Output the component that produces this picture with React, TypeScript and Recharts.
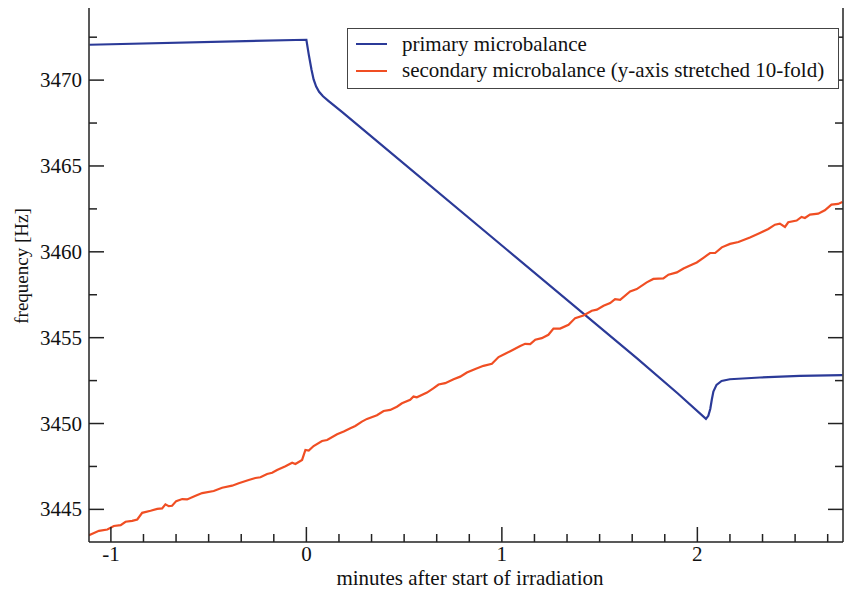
import React from 'react';
import { LineChart, Line, XAxis, YAxis, Legend } from 'recharts';

// tick positions (minutes, Hz)
const xMajorTicks = [-1, 0, 1, 2];
const xTicks = [
  -1, -5 / 6, -2 / 3, -1 / 2, -1 / 3, -1 / 6, 0, 1 / 6, 1 / 3, 1 / 2, 2 / 3, 5 / 6,
  1, 7 / 6, 4 / 3, 3 / 2, 5 / 3, 11 / 6, 2, 13 / 6, 7 / 3, 5 / 2, 8 / 3,
];
const yMajorTicks = [3445, 3450, 3455, 3460, 3465, 3470];
const yTicks = [3445, 3447.5, 3450, 3452.5, 3455, 3457.5, 3460, 3462.5, 3465, 3467.5, 3470, 3472.5];

// primary microbalance
const primaryX = [
  -1.109, 0.0, 0.012, 0.026, 0.037, 0.05, 0.065, 0.085, 0.114, 0.182,
  0.361, 1.026, 1.69, 1.9, 2.044, 2.056, 2.066, 2.074, 2.082, 2.098,
  2.124, 2.166, 2.32, 2.524, 2.742,
];
const primaryY = [
  3472.06, 3472.35, 3471.5, 3470.62, 3470.04, 3469.62, 3469.32, 3469.06, 3468.78, 3468.15,
  3466.45, 3460.12, 3453.81, 3451.75, 3450.27, 3450.45, 3450.85, 3451.4, 3451.86, 3452.25,
  3452.48, 3452.58, 3452.68, 3452.78, 3452.82,
];

// secondary microbalance (y-axis stretched 10-fold)
const secondaryX = [
  -1.112, -1.061, -1.018, -0.985, -0.95, -0.925, -0.891, -0.865, -0.84, -0.797,
  -0.763, -0.738, -0.721, -0.704, -0.687, -0.666, -0.635, -0.61, -0.567, -0.533,
  -0.474, -0.431, -0.38, -0.346, -0.295, -0.261, -0.235, -0.201, -0.175, -0.15,
  -0.107, -0.073, -0.056, -0.022, -0.005, 0.012, 0.037, 0.08, 0.106, 0.157,
  0.191, 0.225, 0.25, 0.284, 0.31, 0.361, 0.395, 0.429, 0.463, 0.489,
  0.531, 0.548, 0.565, 0.617, 0.651, 0.676, 0.71, 0.753, 0.787, 0.821,
  0.864, 0.906, 0.949, 0.983, 1.017, 1.043, 1.094, 1.119, 1.145, 1.171,
  1.204, 1.238, 1.264, 1.298, 1.341, 1.375, 1.417, 1.46, 1.486, 1.52,
  1.554, 1.579, 1.605, 1.656, 1.69, 1.741, 1.775, 1.826, 1.852, 1.895,
  1.929, 1.971, 1.997, 2.031, 2.065, 2.091, 2.125, 2.167, 2.21, 2.269,
  2.32, 2.363, 2.397, 2.422, 2.448, 2.465, 2.508, 2.533, 2.55, 2.576,
  2.618, 2.652, 2.686, 2.72, 2.742,
];
const secondaryY = [
  3443.5, 3443.75, 3443.83, 3444.03, 3444.08, 3444.28, 3444.33, 3444.41, 3444.8, 3444.92,
  3445.03, 3445.06, 3445.29, 3445.19, 3445.21, 3445.48, 3445.6, 3445.58, 3445.79, 3445.95,
  3446.07, 3446.26, 3446.38, 3446.52, 3446.71, 3446.83, 3446.87, 3447.06, 3447.13, 3447.29,
  3447.51, 3447.72, 3447.64, 3447.88, 3448.46, 3448.42, 3448.69, 3448.98, 3449.04, 3449.37,
  3449.53, 3449.72, 3449.86, 3450.11, 3450.27, 3450.48, 3450.73, 3450.79, 3450.98, 3451.18,
  3451.38, 3451.57, 3451.53, 3451.8, 3452.06, 3452.27, 3452.35, 3452.58, 3452.73, 3452.97,
  3453.18, 3453.36, 3453.48, 3453.87, 3454.06, 3454.21, 3454.52, 3454.64, 3454.62, 3454.88,
  3454.97, 3455.17, 3455.53, 3455.53, 3455.75, 3456.14, 3456.29, 3456.57, 3456.63, 3456.86,
  3457.02, 3457.25, 3457.21, 3457.69, 3457.83, 3458.22, 3458.42, 3458.45, 3458.67, 3458.8,
  3459.03, 3459.25, 3459.38, 3459.65, 3459.93, 3459.93, 3460.26, 3460.46, 3460.57, 3460.84,
  3461.1, 3461.33, 3461.58, 3461.64, 3461.45, 3461.72, 3461.82, 3462.03, 3461.97, 3462.17,
  3462.22, 3462.42, 3462.75, 3462.79, 3462.9,
];

const primaryData = primaryX.map((x, i) => ({ x, y: primaryY[i] }));
const secondaryData = secondaryX.map((x, i) => ({ x, y: secondaryY[i] }));

const FONT = '"Liberation Serif", "Times New Roman", serif';
const AXIS = '#222';
const BLUE = '#2b3a98';
const RED = '#f04e23';
const X_DOMAIN = [-1.112, 2.745];
const Y_DOMAIN = [3443.1, 3474.2];

const isMajorX = (v: number) => xMajorTicks.includes(v);
const isMajorY = (v: number) => yMajorTicks.includes(v);

// ticks point inward, labels only on major ticks
const BottomTick = (props: any) => {
  const { x, y, payload } = props;
  const major = isMajorX(payload.value);
  return (
    <g>
      <line x1={x} x2={x} y1={y} y2={y - (major ? 15 : 8)} stroke={AXIS} strokeWidth={1.5} />
      {major && (
        <text x={x} y={y + 19} textAnchor="middle" fontFamily={FONT} fontSize={21} fill="#111">
          {payload.value}
        </text>
      )}
    </g>
  );
};

const TopTick = (props: any) => {
  const { x, y, payload } = props;
  const major = isMajorX(payload.value);
  return <line x1={x} x2={x} y1={y} y2={y + (major ? 15 : 8)} stroke={AXIS} strokeWidth={1.5} />;
};

const LeftTick = (props: any) => {
  const { x, y, payload } = props;
  const major = isMajorY(payload.value);
  return (
    <g>
      <line x1={x} x2={x + (major ? 15 : 8)} y1={y} y2={y} stroke={AXIS} strokeWidth={1.5} />
      {major && (
        <text x={x - 7} y={y + 7} textAnchor="end" fontFamily={FONT} fontSize={21} fill="#111">
          {payload.value}
        </text>
      )}
    </g>
  );
};

const RightTick = (props: any) => {
  const { x, y, payload } = props;
  const major = isMajorY(payload.value);
  return <line x1={x} x2={x - (major ? 15 : 8)} y1={y} y2={y} stroke={AXIS} strokeWidth={1.5} />;
};

const YLabel = (props: any) => {
  const { viewBox } = props;
  const cy = viewBox.y + viewBox.height / 2 - 9;
  return (
    <text
      transform={`translate(${viewBox.x + 28},${cy}) rotate(-90)`}
      textAnchor="middle"
      fontFamily={FONT}
      fontSize={19}
      fill="#111"
    >
      frequency [Hz]
    </text>
  );
};

const LegendBox = (props: any) => {
  const { payload } = props;
  return (
    <div
      style={{
        boxSizing: 'border-box',
        width: 492,
        height: 61,
        border: '1.5px solid #444',
        background: '#fff',
        padding: '2px 0 0 8px',
        fontFamily: FONT,
        fontSize: 21,
        color: '#111',
      }}
    >
      {payload.map((entry: any) => (
        <div key={entry.value} style={{ height: 26.5, display: 'flex', alignItems: 'center', whiteSpace: 'nowrap' }}>
          <span style={{ display: 'inline-block', width: 31, borderTop: `2.5px solid ${entry.color}`, marginRight: 15 }} />
          <span>{entry.value}</span>
        </div>
      ))}
    </div>
  );
};

export default function App() {
  return (
    <div style={{ position: 'absolute', left: 0, top: 0, background: '#fff' }}>
      <LineChart width={844} height={589} margin={{ top: 8, right: 0, bottom: 0, left: 0 }}>
        <XAxis
          xAxisId="b"
          dataKey="x"
          type="number"
          domain={X_DOMAIN}
          allowDataOverflow
          ticks={xTicks}
          interval={0}
          tick={<BottomTick />}
          tickLine={false}
          tickSize={0}
          tickMargin={0}
          axisLine={{ stroke: AXIS, strokeWidth: 1.5 }}
          height={47}
          label={{
            value: 'minutes after start of irradiation',
            position: 'insideBottom',
            offset: 4.5,
            dx: 4,
            fontFamily: FONT,
            fontSize: 21,
            fill: '#111',
          }}
        />
        <XAxis
          xAxisId="t"
          orientation="top"
          dataKey="x"
          type="number"
          domain={X_DOMAIN}
          allowDataOverflow
          ticks={xTicks}
          interval={0}
          tick={<TopTick />}
          tickLine={false}
          tickSize={0}
          tickMargin={0}
          axisLine={{ stroke: AXIS, strokeWidth: 1.5 }}
          height={0}
        />
        <YAxis
          yAxisId="l"
          type="number"
          domain={Y_DOMAIN}
          allowDataOverflow
          ticks={yTicks}
          interval={0}
          tick={<LeftTick />}
          tickLine={false}
          tickSize={0}
          tickMargin={0}
          axisLine={{ stroke: AXIS, strokeWidth: 1.5 }}
          width={89}
          label={{ content: <YLabel /> }}
        />
        <YAxis
          yAxisId="r"
          orientation="right"
          type="number"
          domain={Y_DOMAIN}
          allowDataOverflow
          ticks={yTicks}
          interval={0}
          tick={<RightTick />}
          tickLine={false}
          tickSize={0}
          tickMargin={0}
          axisLine={{ stroke: AXIS, strokeWidth: 1.5 }}
          width={1}
        />
        <Legend
          layout="vertical"
          align="center"
          verticalAlign="middle"
          content={<LegendBox />}
          wrapperStyle={{ top: 28, left: 347, width: 492, height: 61 }}
        />
        <Line
          xAxisId="b"
          yAxisId="l"
          data={primaryData}
          dataKey="y"
          name="primary microbalance"
          type="linear"
          stroke={BLUE}
          strokeWidth={2.2}
          dot={false}
          activeDot={false}
          isAnimationActive={false}
        />
        <Line
          xAxisId="b"
          yAxisId="l"
          data={secondaryData}
          dataKey="y"
          name="secondary microbalance (y-axis stretched 10-fold)"
          type="linear"
          stroke={RED}
          strokeWidth={2.2}
          dot={false}
          activeDot={false}
          isAnimationActive={false}
        />
      </LineChart>
    </div>
  );
}
